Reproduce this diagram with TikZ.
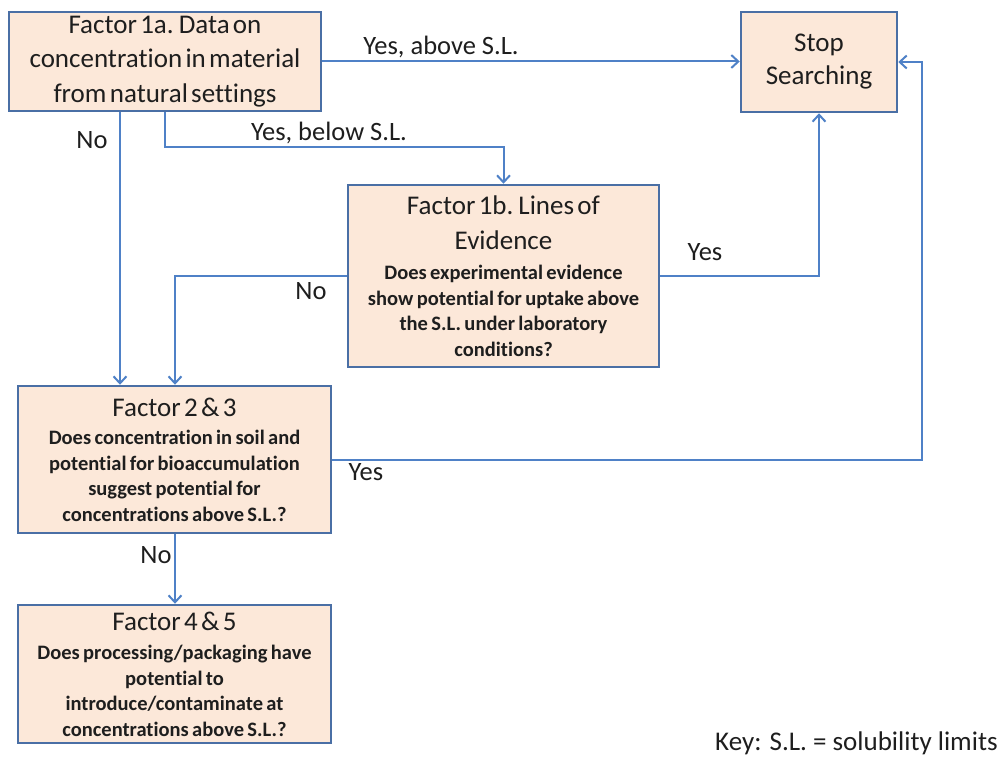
\documentclass[tikz,border=0pt]{standalone}
\usepackage{fontspec}
\setmainfont{Carlito}[Ligatures=NoCommon]
\usetikzlibrary{arrows.meta}
\definecolor{boxfill}{HTML}{FCE8D9}
\definecolor{boxline}{HTML}{4A6FA5}
\definecolor{cline}{HTML}{4F81C7}
\definecolor{txt}{HTML}{1E1E1E}
\newcommand{\tfont}{\fontsize{27}{34.5}\selectfont}
\newcommand{\bfont}{\bfseries\fontsize{20.5}{25.5}\selectfont}
\newcommand{\lfont}{\fontsize{26.5}{30}\selectfont}
\begin{document}
\begin{tikzpicture}[x=1pt,y=-1pt,
  box/.style={draw=boxline, fill=boxfill, line width=2.5pt, inner sep=0pt, align=center, text=txt},
  conn/.style={draw=cline, line width=2pt, -{Straight Barb[length=7pt,width=13pt]}},
  lab/.style={font=\lfont, inner sep=0pt, text=txt}]
\useasboundingbox (0,0) rectangle (1003,757);

\node[box, minimum width=312pt, minimum height=99pt, text width=300pt] (f1a) at (165,61.5)
  {\tfont Factor 1a. Data on\\ concentration in material\\ from natural settings\par};
\node[box, minimum width=156pt, minimum height=100pt, text width=150pt] (stop) at (819,62)
  {\fontsize{27}{33}\selectfont Stop\\ Searching\par};
\node[box, minimum width=311pt, minimum height=182pt, text width=305pt] (f1b) at (503.5,276)
  {{\tfont Factor 1b. Lines of\\ Evidence\par}\vspace{5pt}{\bfont Does experimental evidence\\ show potential for uptake above\\ the S.L. under laboratory\\ conditions?\par}};
\node[box, minimum width=313pt, minimum height=147pt, text width=305pt] (f23) at (174.5,459.5)
  {{\tfont Factor 2 \& 3\par}\vspace{3pt}{\bfont Does concentration in soil and\\ potential for bioaccumulation\\ suggest potential for\\ concentrations above S.L.?\par}};
\node[box, minimum width=313pt, minimum height=138pt, text width=305pt] (f45) at (174.5,674)
  {{\tfont Factor 4 \& 5\par}\vspace{4pt}{\bfont Does processing/packaging have\\ potential to\\ introduce/contaminate at\\ concentrations above S.L.?\par}};

\coordinate (xA) at (120,0);
\coordinate (xB) at (175,0);
\coordinate (xD) at (922,0);
\coordinate (yE) at (0,147);
\coordinate (xE) at (165,0);

\draw[conn] (f1a.east) -- (f1a.east -| stop.west);
\draw[conn] (f1a.south -| xE) -- (xE |- yE) -| (f1b.north);
\draw[conn] (f1a.south -| xA) -- (f23.north -| xA);
\draw[conn] (f1b.west) -| (f23.north -| xB);
\draw[conn] (f1b.east) -| (stop.south);
\draw[conn] (f23.east) -| (xD |- stop.east) -- (stop.east);
\draw[conn] (f23.south -| xB) -- (f45.north -| xB);

\node[lab] (l1) at (441,47) {Yes, above S.L.};
\node[lab] (l2) at (329,133) {Yes, below S.L.};
\node[lab] (l3) at (92,140) {No};
\node[lab] (l4) at (311,291) {No};
\node[lab] (l5) at (705,252) {Yes};
\node[lab] (l6) at (366,472) {Yes};
\node[lab] (l7) at (156,555) {No};
\node[lab, anchor=base west, font=\fontsize{27}{30}\selectfont] (key) at (715,750) {Key: S.L. = solubility limits};
\end{tikzpicture}
\end{document}
